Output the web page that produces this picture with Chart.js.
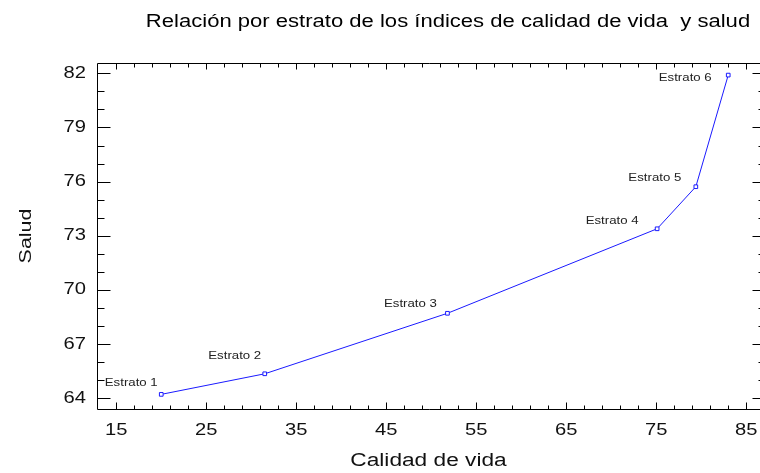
<!DOCTYPE html>
<html><head><meta charset="utf-8">
<script src="https://cdn.jsdelivr.net/npm/chart.js@4/dist/chart.umd.min.js"></script>
<style>html,body{margin:0;padding:0;background:#fff}#wrap{width:760px;height:473px}</style>
</head><body><div id="wrap"><canvas id="c" width="760" height="473"></canvas></div>
<script>
// ---- data ----
const strata = ['Estrato 1', 'Estrato 2', 'Estrato 3', 'Estrato 4', 'Estrato 5', 'Estrato 6'];
const calidadVida = [20.0, 31.5, 51.8, 75.1, 79.4, 83.0];
const salud = [64.22, 65.36, 68.71, 73.39, 75.72, 81.9];
const xTickLabels = [15, 25, 35, 45, 55, 65, 75, 85];
const yTickLabels = [64, 67, 70, 73, 76, 79, 82];
const chartTitle = 'Relación por estrato de los índices de calidad de vida  y salud';
const xTitle = 'Calidad de vida';
const yTitle = 'Salud';

// ---- style ----
const FONT = '"Liberation Sans", Arial, sans-serif';
const TEXT_STRETCH = 1.26;
const labelOffsets = [[-30, -11], [-30, -18], [-37, -9], [-45, -8], [-41, -9], [-43, 3]];
const xMinorDiv = 5, yMinorDiv = 3;

const canvas = document.getElementById('c');
const c2d = canvas.getContext('2d');
const nativeFill = c2d.fillText.bind(c2d);
c2d.fillText = function (t, x, y, mw) {
  this.save();
  this.translate(x, y);
  this.scale(TEXT_STRETCH, 1);
  if (mw === undefined || mw === null) nativeFill(t, 0, 0);
  else nativeFill(t, 0, 0, mw / TEXT_STRETCH);
  this.restore();
};

const framePlugin = {
  id: 'frame',
  afterDraw(chart) {
    const ctx = chart.ctx, a = chart.chartArea;
    const xs = chart.scales.x, ys = chart.scales.y;
    ctx.save();
    ctx.strokeStyle = '#000';
    ctx.lineWidth = 1;
    const L = Math.round(a.left) + 0.5, R = Math.round(a.right) + 5.5;
    const T = Math.round(a.top) + 0.5, B = Math.round(a.bottom) + 0.5;
    ctx.beginPath();
    ctx.moveTo(R, B); ctx.lineTo(L, B); ctx.lineTo(L, T); ctx.lineTo(R, T);
    ctx.stroke();
    ctx.beginPath();
    for (let i = 0; i < xTickLabels.length; i++) {
      const v0 = xTickLabels[i];
      const next = xTickLabels[i + 1];
      const steps = next === undefined ? 1 : xMinorDiv;
      for (let k = 0; k < steps; k++) {
        const v = next === undefined ? v0 : v0 + (next - v0) * k / xMinorDiv;
        const major = k === 0;
        const px = Math.round(xs.getPixelForValue(v)) + 0.5;
        const lb = major ? 7 : 4, lt = major ? 6 : 4;
        ctx.moveTo(px, B); ctx.lineTo(px, B - lb);
        ctx.moveTo(px, T); ctx.lineTo(px, T + lt);
      }
    }
    for (let i = 0; i < yTickLabels.length; i++) {
      const v0 = yTickLabels[i];
      const next = yTickLabels[i + 1];
      const steps = next === undefined ? 1 : yMinorDiv;
      for (let k = 0; k < steps; k++) {
        const v = next === undefined ? v0 : v0 + (next - v0) * k / yMinorDiv;
        const major = k === 0;
        const py = Math.round(ys.getPixelForValue(v)) + 0.5;
        const len = major ? 13 : 7;
        ctx.moveTo(L, py); ctx.lineTo(L + len, py);
        ctx.moveTo(R, py); ctx.lineTo(R - len, py);
      }
    }
    ctx.stroke();
    ctx.fillStyle = '#000';
    ctx.font = '17.5px ' + FONT;
    ctx.textAlign = 'center';
    ctx.textBaseline = 'middle';
    ctx.fillText(chartTitle, 448, 22);
    ctx.restore();
  },
  afterDatasetsDraw(chart) {
    const ctx = chart.ctx;
    const meta = chart.getDatasetMeta(0);
    ctx.save();
    ctx.fillStyle = '#222';
    ctx.font = '10.5px ' + FONT;
    ctx.textAlign = 'center';
    ctx.textBaseline = 'middle';
    meta.data.forEach((pt, i) => {
      const o = labelOffsets[i];
      ctx.fillText(strata[i], pt.x + o[0], pt.y + o[1]);
    });
    ctx.restore();
  }
};

new Chart(canvas, {
  type: 'line',
  data: {
    datasets: [{
      data: calidadVida.map((x, i) => ({x: x, y: salud[i]})),
      borderColor: '#1a1aff',
      borderWidth: 1,
      pointStyle: 'rect',
      pointRadius: 2.6,
      pointBorderWidth: 1,
      pointBorderColor: '#1a1aff',
      pointBackgroundColor: '#ffffff',
      tension: 0,
      fill: false,
      clip: false
    }]
  },
  options: {
    responsive: false,
    animation: false,
    devicePixelRatio: 1,
    layout: {autoPadding: false, padding: {left: 0, right: 0, top: 63, bottom: 0}},
    plugins: {legend: {display: false}, tooltip: {enabled: false}, title: {display: false}},
    scales: {
      x: {
        type: 'linear',
        position: 'bottom',
        min: 12.86, max: 86.53,
        afterBuildTicks: ax => { ax.ticks = xTickLabels.map(v => ({value: v})); },
        afterFit: s => { s.height = 64; s.paddingLeft = 0; s.paddingRight = 0; },
        grid: {display: false, drawTicks: false},
        border: {display: false},
        ticks: {font: {family: FONT, size: 16}, color: '#111', padding: 12, autoSkip: false, maxRotation: 0},
        title: {display: true, text: xTitle, color: '#111', font: {family: FONT, size: 18}, padding: {top: 0, bottom: 1}}
      },
      y: {
        type: 'linear',
        position: 'left',
        min: 63.41, max: 82.57,
        afterBuildTicks: ax => { ax.ticks = yTickLabels.map(v => ({value: v})); },
        afterFit: s => { s.width = 97; s.paddingTop = 0; s.paddingBottom = 0; },
        grid: {display: false, drawTicks: false},
        border: {display: false},
        ticks: {font: {family: FONT, size: 16}, color: '#111', padding: 11, autoSkip: false},
        title: {display: true, text: yTitle, color: '#111', font: {family: FONT, size: 17}, padding: {top: 16, bottom: 0}}
      }
    }
  },
  plugins: [framePlugin]
});
</script></body></html>
